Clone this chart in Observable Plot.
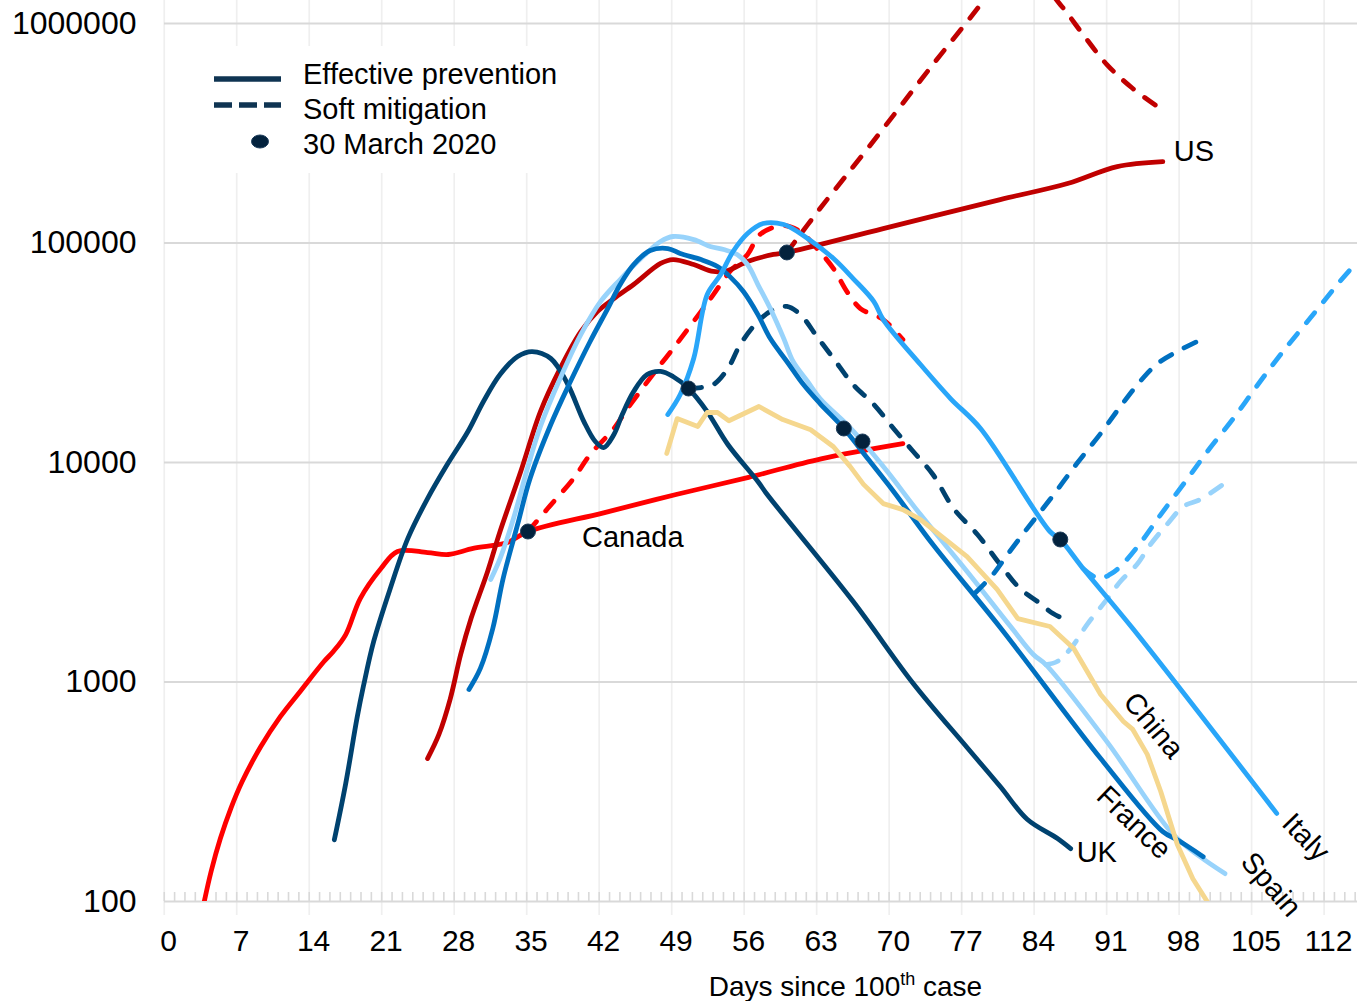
<!DOCTYPE html>
<html>
<head>
<meta charset="utf-8">
<script src="https://cdn.jsdelivr.net/npm/d3@7"></script>
<script src="https://cdn.jsdelivr.net/npm/@observablehq/plot@0.6"></script>
<style>
  html, body { margin: 0; padding: 0; background: #fff; }
  #wrap { position: relative; width: 1357px; height: 1001px; overflow: hidden; font-family: 'Liberation Sans', Arial, Helvetica, sans-serif; }
  #overlay { position: absolute; left: 0; top: 0; pointer-events: none; }
</style>
</head>
<body>
<div id="wrap"></div>
<script>
// ---------- DATA (day since 100th case, active cases) ----------
const majorDays = [0, 7, 14, 21, 28, 35, 42, 49, 56, 63, 70, 77, 84, 91, 98, 105, 112];
const yTicks = [100, 1000, 10000, 100000, 1000000];

const canadaSolid = [[3.4,98],[4.1,137],[5.0,194],[6.0,265],[7.1,352],[8.9,508],[10.8,697],[12.7,906],[15.0,1240],[15.9,1377],[17.1,1645],[18.5,2400],[20.5,3290],[22.1,3935],[25.0,3890],[27.0,3810],[29.4,4060],[32.7,4320],[34.7,4850],[42.0,5900],[49.0,7150],[56.0,8560],[63.0,10400],[70.9,12200]];
const canadaSoft = [[34.7,4850],[36.6,6170],[39.1,8460],[40.7,10870],[43.0,14300],[44.3,17600],[47.2,26800],[48.7,33000],[51.4,48700],[52.6,58200],[54.2,74200],[55.9,88700],[57.1,109400],[59.3,120200],[61.0,112800],[62.6,94400],[64.2,76500],[65.5,60100],[66.8,50300],[69.0,44800],[70.9,36300]];
const usSolid = [[25.0,448],[26.1,577],[27.2,841],[28.2,1335],[29.2,1946],[30.8,3190],[32.0,4850],[34.0,9100],[35.9,17070],[37.8,26800],[39.8,39500],[41.4,48700],[43.0,55900],[44.9,64700],[47.5,80700],[48.7,84100],[50.7,79800],[52.6,74200],[54.0,75000],[55.9,82400],[58.4,88700],[59.7,90600],[69.0,116400],[80.3,157800],[86.8,186700],[91.6,223100],[96.0,235100]];
const usSoft = [[59.7,90600],[62.9,143600],[67.5,269600],[73.8,650600],[78.4,1220000],[81.8,2000000],[86.1,1220000],[88.3,891000],[90.6,650600],[93.1,505800],[95.9,405600]];
const ukSolid = [[16.0,191],[17.1,345],[18.2,689],[18.8,953],[19.8,1530],[21.4,2667],[23.1,4510],[25.0,6850],[26.9,9790],[28.9,13840],[30.4,18970],[32.0,25170],[33.7,30400],[35.1,32040],[36.9,29780],[38.5,22910],[40.1,15370],[41.2,12470],[42.0,11700],[43.0,13420],[43.8,16540],[44.9,21050],[46.2,25170],[47.5,26000],[48.7,24660],[50.2,21740],[52.0,17070],[54.0,12080],[56.9,8190],[57.8,7150],[66.1,2327],[71.9,985],[77.1,503],[80.3,334],[82.9,237],[85.8,194],[87.1,174]];
const ukSoft = [[50.2,21740],[51.4,21960],[52.6,22650],[54.0,26800],[55.2,34500],[56.9,43900],[58.4,49800],[59.7,51400],[61.0,47200],[62.6,37500],[64.2,29800],[66.1,22650],[68.1,18370],[70.0,14290],[71.9,11220],[73.8,8820],[75.8,6170],[78.1,4700],[80.3,3430],[82.2,2667],[83.9,2327],[85.4,2050],[86.4,1945]];
const franceSolid = [[29.0,925],[30.1,1153],[31.3,1753],[32.3,2963],[33.7,5220],[34.9,8460],[36.9,14900],[38.8,23390],[40.7,35600],[42.4,50300],[43.6,64700],[44.9,79800],[46.5,92400],[48.2,94400],[49.4,89600],[51.4,84100],[53.0,78200],[54.2,70300],[55.5,60100],[56.9,47200],[58.1,36700],[59.7,28860],[61.3,22650],[62.9,18560],[65.2,14290],[67.5,10420],[70.0,7380],[73.8,4230],[80.3,1772],[90.0,448],[96.0,208],[97.4,191],[99.9,160]];
const franceSoft = [[77.9,2550],[79.6,3090],[81.0,3810],[82.9,5000],[85.1,6780],[87.7,9890],[90.0,13560],[91.9,17990],[93.8,23390],[95.5,28250],[97.4,32040],[99.9,36700]];
const spainSolid = [[31.1,2930],[32.0,3650],[33.3,5560],[34.7,9590],[35.9,14590],[37.8,24150],[39.8,38300],[41.7,54100],[43.6,68200],[45.6,85000],[47.5,101600],[48.7,107100],[50.7,103700],[52.3,96400],[53.6,93400],[54.9,88700],[55.9,79800],[56.9,64700],[58.1,50300],[59.4,36700],[60.3,28860],[61.7,23390],[62.9,19570],[65.5,14900],[67.0,12470],[69.4,9100],[72.6,5790],[77.1,3190],[81.3,1790],[83.5,1335],[84.7,1200],[90.6,535],[97.0,202],[99.6,160],[102.0,134]];
const spainSoft = [[84.7,1200],[85.8,1240],[87.1,1420],[88.7,1830],[90.6,2380],[91.9,2870],[93.5,3430],[94.8,4230],[96.4,5220],[98.0,6310],[99.6,6780],[101.8,7940]];
const italySolid = [[48.2,16540],[49.4,20400],[50.7,29780],[52.0,58200],[53.3,71800],[54.5,91500],[55.9,110500],[57.4,122700],[59.4,121400],[61.7,104900],[64.2,85000],[66.1,68900],[68.1,54100],[69.0,44800],[72.6,27950],[75.5,19570],[78.4,14290],[85.1,4850],[86.1,4460],[88.3,3290],[93.1,1753],[107.0,252]];
const italySoft = [[88.3,3290],[89.8,2960],[90.9,3090],[91.9,3360],[93.8,4280],[95.8,5790],[98.4,8460],[100.3,11220],[102.8,15850],[105.4,23390],[107.6,32040],[110.2,45300],[113.1,66800],[114.8,82400]];
const chinaSolid = [[48.1,11000],[49.1,15850],[51.1,14600],[52.0,16900],[53.0,16900],[54.1,15500],[57.0,18000],[59.3,15700],[62.0,14100],[64.2,11800],[65.8,9600],[67.1,7950],[69.0,6500],[70.9,6100],[72.6,5500],[77.1,3730],[80.0,2640],[82.0,1945],[85.1,1790],[87.4,1420],[90.0,877],[92.2,661],[93.1,608],[94.5,468],[95.8,317],[97.4,182],[98.9,127],[100.4,98]];

const march30 = [["Canada",34.7,4850],["UK",50.2,21740],["US",59.7,90600],["France",65.2,14290],["Spain",67.0,12470],["Italy",86.1,4460]];

// ---------- STYLES ----------
const C = {canada:"#FF0000", us:"#C00000", uk:"#00426F", france:"#0070C0", italy:"#29A6F9", spain:"#98D3FB", china:"#F5D78E"};
const series = [
  {pts: canadaSolid, color: C.canada, dash: false},
  {pts: canadaSoft,  color: C.canada, dash: true},
  {pts: usSolid,     color: C.us,     dash: false},
  {pts: usSoft,      color: C.us,     dash: true},
  {pts: ukSolid,     color: C.uk,     dash: false},
  {pts: ukSoft,      color: C.uk,     dash: true},
  {pts: spainSolid,  color: C.spain,  dash: false},
  {pts: spainSoft,   color: C.spain,  dash: true},
  {pts: franceSolid, color: C.france, dash: false},
  {pts: franceSoft,  color: C.france, dash: true},
  {pts: italySolid,  color: C.italy,  dash: false},
  {pts: italySoft,   color: C.italy,  dash: true},
  {pts: chinaSolid,  color: C.china,  dash: false, curve: "linear"}
];

const last = a => a[a.length - 1];
const labelSpecs = [
  {text: "US",     pt: last(usSolid),     dx: 11,  dy: -10, rotate: 0,  anchor: "start"},
  {text: "Canada", pt: canadaSolid[18],   dx: 54,  dy: 6,   rotate: 0,  anchor: "start"},
  {text: "UK",     pt: last(ukSolid),     dx: 6,   dy: 4,   rotate: 0,  anchor: "start"},
  {text: "China",  pt: chinaSolid[21],    dx: 30,  dy: 4,   rotate: 50, anchor: "middle"},
  {text: "France", pt: franceSolid[30],   dx: -29, dy: -9,  rotate: 44, anchor: "middle"},
  {text: "Italy",  pt: last(italySolid),  dx: 29,  dy: 24,  rotate: 46, anchor: "middle"},
  {text: "Spain",  pt: last(spainSolid),  dx: 46,  dy: 11,  rotate: 49, anchor: "middle"}
];

const minorDays = d3.range(0, 116);
const FONT = "'Liberation Sans', Arial, Helvetica, sans-serif";

const marks = [
  Plot.ruleX(majorDays, {x: d => d, stroke: "#EFEFEF", strokeWidth: 1.7, dx: -4.4, insetBottom: -14}),
  Plot.ruleY(yTicks, {y: d => d, stroke: "#D9D9D9", strokeWidth: 2}),
  Plot.ruleX(minorDays, {x: d => d, stroke: "#D9D9D9", strokeWidth: 1.6, dx: -4.4, insetTop: 892}),
  Plot.axisY({ticks: yTicks, tickSize: 0, tickPadding: 28, tickFormat: d => d3.format("d")(d), fontSize: 32, fill: "#000", label: null}),
  Plot.axisX({ticks: majorDays, tickSize: 0, tickPadding: 28, tickFormat: d => String(d), fontSize: 30, fill: "#000", label: null})
];
for (const s of series) {
  marks.push(Plot.line(s.pts, {
    x: d => d[0], y: d => d[1],
    stroke: s.color, strokeWidth: 4.8,
    strokeDasharray: s.dash ? "13,14" : null,
    strokeLinecap: "round", strokeLinejoin: "round",
    curve: s.curve || "catmull-rom", clip: true
  }));
}
marks.push(Plot.dot(march30, {x: d => d[1], y: d => d[2], r: 7.5, fill: "#03223D", stroke: "#1C3C5A", strokeWidth: 1}));
for (const l of labelSpecs) {
  marks.push(Plot.text([l.pt], {x: d => d[0], y: d => d[1], text: () => l.text, dx: l.dx, dy: l.dy, rotate: l.rotate, textAnchor: l.anchor, fontSize: 29, fill: "#000"}));
}

const chart = Plot.plot({
  width: 1357, height: 1001,
  marginLeft: 164, marginRight: 0, marginTop: 0, marginBottom: 100,
  x: {domain: [-0.4, 114.8]},
  y: {type: "log", domain: [100, Math.pow(10, 6.105)]},
  style: {fontFamily: FONT, background: "white", color: "#000", overflow: "visible"},
  marks
});
const wrap = document.getElementById("wrap");
wrap.appendChild(chart);

// ---------- LEGEND + AXIS TITLE ----------
const ns = "http://www.w3.org/2000/svg";
const ov = document.createElementNS(ns, "svg");
ov.setAttribute("id", "overlay");
ov.setAttribute("width", 1357); ov.setAttribute("height", 1001);
ov.innerHTML = `
  <rect x="200" y="46" width="372" height="127" fill="#fff"/>
  <line x1="214" x2="281" y1="79" y2="79" stroke="#0F3452" stroke-width="5.5"/>
  <line x1="214" x2="281" y1="105" y2="105" stroke="#0F3452" stroke-width="5.5" stroke-dasharray="18,7"/>
  <ellipse cx="260" cy="141.5" rx="8.5" ry="6.5" fill="#03223D" stroke="#1C3C5A" stroke-width="1"/>
  <g font-family="${FONT}" font-size="29" fill="#000">
    <text x="303" y="84">Effective prevention</text>
    <text x="303" y="118.5">Soft mitigation</text>
    <text x="303" y="154">30 March 2020</text>
  </g>
  <text x="845.5" y="996" text-anchor="middle" font-family="${FONT}" font-size="28" fill="#000">Days since 100<tspan font-size="18" dy="-11">th</tspan><tspan dy="11"> case</tspan></text>
`;
wrap.appendChild(ov);
</script>
</body>
</html>
